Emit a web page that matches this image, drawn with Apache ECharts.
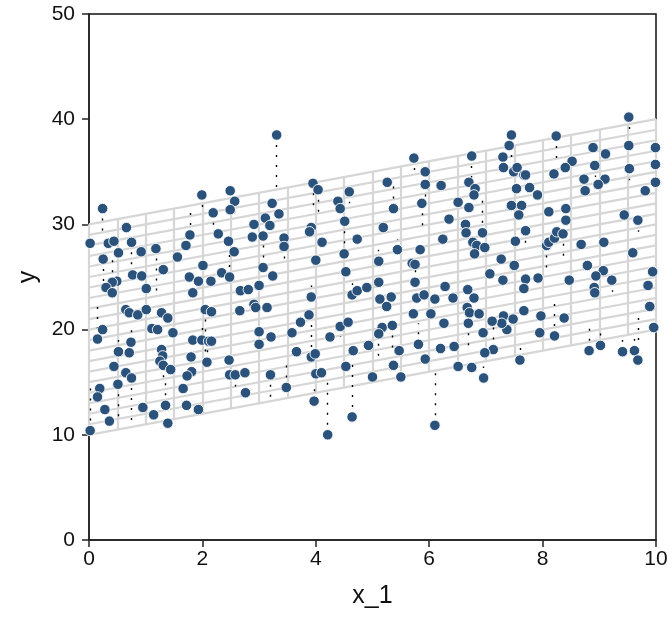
<!DOCTYPE html>
<html><head><meta charset="utf-8">
<script src="https://cdn.jsdelivr.net/npm/echarts@6/dist/echarts.min.js"></script>
<style>html,body{margin:0;padding:0;background:#fff}#c{width:672px;height:624px}</style>
</head><body><div id="c"></div><script>
// observed points: x_1, y, and fitted value (end of dotted residual line; null = not visible)
const x1Values=[
3.31,0.24,1.99,2.49,2.57,2.49,2.19,3.23,3.35,3.11,
2.91,3.19,0.66,0.02,0.34,0.44,0.75,0.52,0.25,0.92,
1.18,1.78,1.71,2.28,2.46,2.56,2.88,3.07,1.56,1.31,
0.77,0.93,0.49,0.41,0.30,0.41,1.01,1.77,1.93,2.01,
2.15,2.34,2.48,1.83,2.67,2.81,3.00,3.07,3.24,0.65,
0.71,0.86,1.01,1.28,1.39,2.05,2.16,2.66,2.91,2.94,
3.14,0.24,0.15,1.11,1.21,1.48,0.74,0.52,0.71,1.83,
1.99,2.11,2.16,3.00,3.21,3.00,1.28,1.30,1.25,1.31,
1.44,1.80,2.08,2.47,0.44,0.65,0.75,0.51,1.81,1.73,
2.48,2.58,2.75,3.20,0.19,0.15,1.66,2.76,0.28,0.36,
0.95,1.14,1.35,1.39,1.72,1.93,0.02,5.73,6.75,5.93,
3.95,4.04,4.59,5.26,5.93,6.21,6.70,6.81,6.79,4.39,
4.43,5.37,5.87,6.51,6.70,4.51,3.92,3.89,5.19,6.35,
6.64,6.65,3.44,3.44,4.11,4.73,6.24,6.77,6.84,6.80,
5.44,5.84,4.00,4.50,5.11,5.70,5.75,4.53,5.75,5.11,
6.28,6.68,4.64,4.73,4.90,3.92,5.33,5.78,5.91,6.10,
6.42,6.79,5.13,5.25,3.88,3.73,3.58,4.43,4.57,4.25,
5.17,5.35,5.11,5.72,6.03,6.26,6.67,6.71,6.69,6.88,
3.66,3.92,3.99,4.66,4.93,5.47,5.81,6.20,6.44,5.93,
4.53,5.37,4.00,4.10,5.00,5.50,6.51,6.75,3.48,3.97,
4.64,4.21,6.10,9.52,7.45,7.41,8.24,7.30,7.31,8.89,
9.11,8.52,8.40,9.52,9.99,9.53,8.92,9.99,7.49,7.55,
7.67,7.70,8.20,8.73,9.10,8.98,8.75,9.99,9.81,7.54,
7.77,7.91,7.45,7.63,7.58,8.11,8.41,8.41,9.44,9.68,
7.70,6.94,7.52,8.07,8.11,8.21,8.25,8.36,8.68,9.08,
6.98,7.27,7.50,9.59,8.79,9.07,8.94,7.07,7.30,
7.70,7.92,8.47,9.22,9.94,9.86,8.91,8.92,7.67,9.89,
9.96,7.67,7.97,8.38,7.31,7.48,7.37,7.28,7.11,
6.95,7.95,8.21,7.13,6.98,7.60,8.82,9.02,9.41,9.62,9.68,6.96
];
const yValues=[
38.5,31.5,32.8,33.2,32.2,31.4,31.1,32.0,31.0,30.6,
30.0,29.9,29.7,28.2,28.2,28.4,28.3,27.3,26.7,27.4,
27.7,29.0,28.0,29.1,28.4,27.4,28.8,28.9,26.9,25.7,
25.2,25.1,24.6,24.5,24.0,23.5,23.9,25.0,24.6,26.1,
24.6,25.4,25.0,23.5,23.7,23.8,24.2,25.9,25.1,21.9,
21.6,21.4,21.9,21.6,21.1,21.9,21.7,21.8,22.4,22.1,
22.1,20.0,19.1,20.1,20.0,19.7,18.8,17.9,17.8,19.0,
19.0,18.9,18.9,19.8,19.3,18.6,18.1,17.5,17.0,16.6,
16.2,17.4,16.9,17.1,16.5,15.9,15.4,14.8,16.0,15.6,
15.7,15.7,15.9,15.7,14.4,13.6,14.4,14.0,12.4,11.3,
12.6,11.9,12.8,11.1,12.8,12.4,10.4,36.3,36.5,35.0,
33.9,33.3,33.1,34.0,33.8,33.7,34.0,33.4,32.8,32.2,
31.5,31.5,32.0,32.1,31.6,30.3,29.7,29.3,29.7,30.5,
30.0,29.2,28.7,27.9,28.3,28.6,28.6,28.3,28.0,27.2,
27.6,27.6,26.6,27.2,26.5,26.3,26.2,25.5,24.5,24.5,
24.1,23.8,23.3,23.7,24.0,23.1,23.1,23.0,23.3,22.9,
23.0,23.0,22.9,22.2,21.4,20.7,19.7,20.3,20.7,19.3,
20.2,20.4,19.6,21.5,21.5,20.6,22.1,21.6,20.6,21.5,
17.9,17.4,17.7,18.0,18.5,18.0,18.6,18.2,18.4,17.2,
16.5,16.6,15.8,15.9,15.5,15.5,16.5,16.4,14.5,13.2,
11.7,10.0,10.9,40.2,38.5,37.5,38.4,36.4,35.4,37.3,
36.7,36.0,35.4,37.5,37.3,35.3,35.6,35.7,35.0,35.4,
34.7,34.7,34.8,34.3,34.3,33.8,33.2,34.0,33.2,33.4,
33.5,32.8,31.8,31.8,30.9,31.2,31.5,30.4,30.9,30.4,
29.4,29.2,28.4,28.0,28.3,28.7,29.3,29.1,28.1,28.3,
27.8,26.7,26.1,27.3,26.1,25.6,25.1,25.3,24.7,
24.8,24.9,24.7,24.7,25.5,24.2,24.0,23.5,23.9,22.2,
20.2,21.8,21.3,21.1,21.3,21.0,20.0,20.6,20.8,
19.7,19.7,19.4,18.1,17.8,17.1,18.0,18.5,17.9,18.0,17.1,15.4
];
const n=null;
const yHatValues=[
33.1,29.2,31.6,n,31.0,n,29.8,n,n,n,
n,n,n,n,n,n,26.0,n,24.5,n,
23.5,31.2,n,n,n,n,n,n,n,n,
n,n,n,27.3,n,n,n,n,n,n,
n,n,27.3,n,n,n,n,28.2,n,n,
n,n,n,n,n,17.8,n,n,n,n,
n,n,22.2,n,n,n,20.5,19.0,n,n,
20.9,n,n,n,n,n,n,n,n,15.0,
n,n,18.6,n,n,n,11.3,11.7,n,n,
n,14.6,n,13.6,n,n,n,n,n,n,
n,n,15.0,n,n,n,14.4,35.0,34.4,n,
31.6,31.1,32.0,n,32.4,n,n,n,n,n,
30.0,33.6,29.7,n,n,28.1,n,n,n,n,
n,n,n,26.4,n,n,n,n,n,n,
28.6,n,n,n,27.6,n,n,n,26.0,n,
n,n,24.4,n,n,24.2,n,n,n,n,
n,n,n,n,n,n,n,19.3,n,n,
n,17.6,17.4,n,n,n,n,n,18.5,n,
n,20.5,n,n,n,n,20.6,n,n,n,
n,n,n,n,n,n,n,n,16.6,14.7,
17.3,15.4,16.4,38.8,36.1,n,36.1,n,n,n,
n,n,n,n,n,34.2,34.5,n,n,n,
n,n,n,n,n,n,n,n,n,n,
n,n,n,n,n,n,n,n,n,29.3,
27.9,32.4,n,25.8,n,n,n,26.9,n,n,
n,n,n,n,n,n,n,n,n,
n,n,n,23.6,n,n,n,n,n,n,
n,n,n,n,n,n,n,n,n,
n,n,22.5,20.3,n,18.3,20.2,19.7,19.0,19.1,21.4,16.5
];
// fitted plane y = b0 + b1*x_1 + b2*x_2, drawn as a mesh
const planeIntercept=10, planeSlopeX1=1, planeSlopeX2=2;
const meshX1=[0,0.5,1,1.5,2,2.5,3,3.5,4,4.5,5,5.5,6,6.5,7,7.5,8,8.5,9,9.5,10];
const meshX2=[0,0.5,1,1.5,2,2.5,3,3.5,4,4.5,5,5.5,6,6.5,7,7.5,8,8.5,9,9.5,10];
const xTickValues=[0,2,4,6,8,10];
const yTickValues=[0,10,20,30,40,50];

const planeY=(a,b)=>planeIntercept+planeSlopeX1*a+planeSlopeX2*b;
const x1Lo=meshX1[0], x1Hi=meshX1[meshX1.length-1];
const x2Lo=meshX2[0], x2Hi=meshX2[meshX2.length-1];
const meshLines=[];
meshX2.forEach(b=>meshLines.push({coords:[[x1Lo,planeY(x1Lo,b)],[x1Hi,planeY(x1Hi,b)]]}));
meshX1.forEach(a=>meshLines.push({coords:[[a,planeY(a,x2Lo)],[a,planeY(a,x2Hi)]]}));
const residLines=[];
x1Values.forEach((x,i)=>{ if(yHatValues[i]!=null) residLines.push({coords:[[x,yValues[i]],[x,yHatValues[i]]]}); });
const pts=x1Values.map((x,i)=>[x,yValues[i]]);

const FONT='"Liberation Sans", Arial, sans-serif';
const axisCommon={
  axisLine:{show:true,onZero:false,lineStyle:{color:'#222',width:1.5}},
  axisTick:{show:true,length:7,inside:false,lineStyle:{color:'#222',width:1.5}},
  splitLine:{show:false},
  nameTextStyle:{fontSize:25,color:'#111',fontFamily:FONT}
};
const chart=echarts.init(document.getElementById('c'),null,{renderer:'canvas'});
chart.setOption({
  animation:false,
  backgroundColor:'#fff',
  grid:{left:89,right:16,top:14,bottom:84,show:true,borderColor:'#111',borderWidth:1.5,backgroundColor:'transparent'},
  xAxis:Object.assign({},axisCommon,{type:'value',min:xTickValues[0],max:xTickValues[xTickValues.length-1],interval:2,
    name:'x_1',nameLocation:'middle',nameGap:44,
    axisLabel:{fontSize:21,color:'#111',fontFamily:FONT,margin:9}}),
  yAxis:Object.assign({},axisCommon,{type:'value',min:yTickValues[0],max:yTickValues[yTickValues.length-1],interval:10,
    name:'y',nameLocation:'middle',nameGap:46,nameRotate:90,
    axisLabel:{fontSize:21,color:'#111',fontFamily:FONT,margin:14}}),
  series:[
    {type:'lines',coordinateSystem:'cartesian2d',silent:true,z:1,data:meshLines,
     lineStyle:{color:'#d6d6d6',width:2.2,opacity:1}},
    {type:'lines',coordinateSystem:'cartesian2d',silent:true,z:2,data:residLines,
     lineStyle:{color:'#000',width:1.4,opacity:1,type:[2,8]}},
    {type:'scatter',z:3,data:pts,symbol:'circle',symbolSize:10.5,clip:false,
     itemStyle:{color:'#2a527b',borderColor:'#fff',borderWidth:0.9,opacity:1}}
  ]
});
</script></body></html>
